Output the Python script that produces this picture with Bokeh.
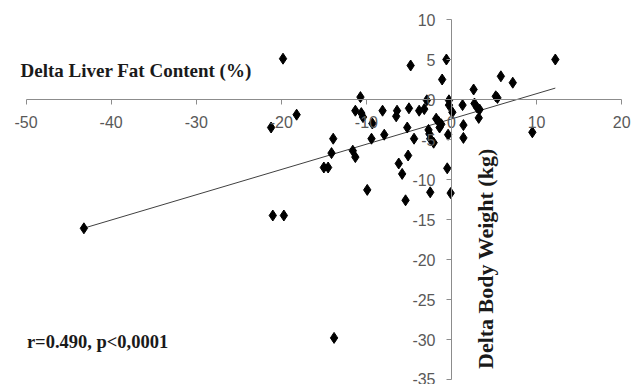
import numpy as np
from bokeh.plotting import figure
from bokeh.models import Range1d, FixedTicker, Label, ColumnDataSource
from bokeh.embed import file_html
from bokeh.resources import INLINE

# Delta liver fat content (%) vs delta body weight (kg)
liver_fat = [-43.2, -21.2, -19.8, -18.2, -21.0, -19.7, -15.0, -14.5, -13.9, -14.1,
             -13.8, -11.6, -11.3, -10.7, -11.3, -10.6, -10.4, -9.9, -9.3, -9.4,
             -8.1, -7.9, -6.4, -6.5, -5.0, -5.2, -4.4, -5.1, -6.2, -5.8,
             -5.4, -4.8, -3.8, -3.2, -2.9, -1.8, -1.5, -1.4, -2.7, -2.6,
             -2.5, -2.1, -0.4, -1.1, -0.6, -0.3, -0.3, 0.1, 1.3, 1.4,
             1.4, -0.5, -2.5, -0.1, 2.6, 2.7, 3.0, 3.3, 3.2, 5.2,
             5.4, 5.8, 7.2, 9.5, 12.2, -1.2]
body_weight = [-16.1, -3.5, 5.1, -1.9, -14.5, -14.5, -8.5, -8.5, -4.9, -6.7,
               -29.8, -6.4, -7.2, 0.3, -1.4, -1.7, -2.2, -11.3, -3.0, -4.9,
               -1.4, -4.4, -1.4, -2.1, -1.1, -3.5, -4.9, -7.0, -8.0, -9.3,
               -12.6, 4.25, -1.4, -1.2, -0.1, -2.4, -2.8, -3.5, -3.8, -4.3,
               -4.9, -5.4, -4.4, 2.5, 5.0, -0.1, -0.7, -1.6, -0.7, -3.2,
               -4.8, -8.6, -11.6, -11.7, 1.25, -0.5, -1.0, -1.25, -2.3, 0.4,
               0.2, 2.9, 2.1, -4.1, 5.0, -3.1]

trend_slope = 0.316
trend_intercept = -2.43

x_ticks = [-50, -40, -30, -20, -10, 0, 10, 20]
y_ticks = [-35, -30, -25, -20, -15, -10, -5, 0, 5, 10]

x_title = "Delta Liver Fat Content (%)"
y_title = "Delta Body Weight (kg)"
stat_text = "r=0.490, p<0,0001"

p = figure(width=644, height=384, output_backend="svg", toolbar_location=None,
           x_range=Range1d(-53.0, 22.68), y_range=Range1d(-35.625, 12.375),
           min_border=0, min_border_left=0, min_border_right=0,
           min_border_top=0, min_border_bottom=0)
p.outline_line_color = None
p.grid.visible = False
p.background_fill_color = "white"
p.border_fill_color = "white"

for ax, ticks, bounds in ((p.xaxis, x_ticks, (-50, 20)), (p.yaxis, y_ticks, (-35, 10))):
    ax.fixed_location = 0
    ax.ticker = FixedTicker(ticks=ticks)
    ax.major_label_overrides = {t: str(t) for t in ticks}
    ax.bounds = bounds
    ax.axis_line_color = "#8c8c8c"
    ax.major_tick_line_color = "#8c8c8c"
    ax.minor_tick_line_color = None
    ax.major_tick_in = 0
    ax.major_tick_out = 5
    ax.major_label_text_font = "Liberation Sans"
    ax.major_label_text_font_size = "16px"
    ax.major_label_text_color = "#595959"
    ax.major_label_standoff = 11

# trend line over the data span
xs = np.array([min(liver_fat), max(liver_fat)])
p.line(xs, trend_slope * xs + trend_intercept, line_color="#404040", line_width=1)

src = ColumnDataSource(dict(x=liver_fat, y=body_weight))
p.scatter("x", "y", source=src, marker="diamond", size=11,
          fill_color="black", line_color="black")

p.add_layout(Label(x=-50.65, y=3.6, text=x_title, text_font="Liberation Serif",
                   text_font_style="bold", text_font_size="19px",
                   text_baseline="middle", text_color="#1a1a1a"))
p.add_layout(Label(x=-49.9, y=-30.25, text=stat_text, text_font="Liberation Serif",
                   text_font_style="bold", text_font_size="18.5px",
                   text_baseline="middle", text_color="#1a1a1a"))
p.add_layout(Label(x=4.05, y=-19.9, text=y_title, text_font="Liberation Serif",
                   text_font_style="bold", text_font_size="22px", angle=np.pi / 2,
                   text_align="center", text_baseline="middle", text_color="#1a1a1a"))

open("out.html", "w").write(file_html(p, INLINE))
